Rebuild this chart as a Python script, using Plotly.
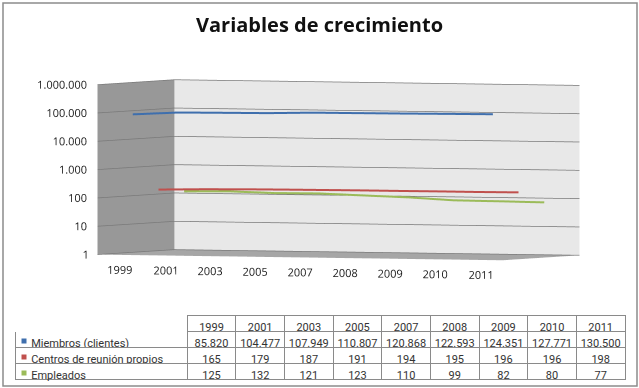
import plotly.graph_objects as go

# ---- data ----
years = ["1999", "2001", "2003", "2005", "2007", "2008", "2009", "2010", "2011"]
miembros = [85820, 104477, 107949, 110807, 120868, 122593, 124351, 127771, 130500]
centros = [165, 179, 187, 191, 194, 195, 196, 196, 198]
empleados = [125, 132, 121, 123, 110, 99, 82, 80, 77]
series_names = ["Miembros (clientes)", "Centros de reunión propios", "Empleados"]
series_values = [miembros, centros, empleados]
series_colors = ["#3F6FAD", "#C0504D", "#9BBB59"]
z_ticks = [1, 10, 100, 1000, 10000, 100000, 1000000]
z_tick_labels = ["1", "10", "100", "1.000", "10.000", "100.000", "1.000.000"]

W, H = 639, 388
FONT = "Open Sans"
TFONT = "Roboto"
TXT = "#222222"

idx = list(range(len(years)))
X_RANGE = [-0.5, len(years) - 0.5]
Y_RANGE = [-0.5, 2.5]
fig = go.Figure()

for depth, (name, vals, col) in enumerate(zip(series_names, series_values, series_colors)):
    fig.add_trace(go.Scatter3d(
        x=idx, y=[depth] * len(idx), z=vals, mode="lines",
        line=dict(color=col, width=4), name=name,
        showlegend=False, hoverinfo="skip",
    ))

# value-axis labels on the front edge of the side wall
fig.add_trace(go.Scatter3d(
    x=[X_RANGE[0]] * len(z_ticks), y=[Y_RANGE[0]] * len(z_ticks), z=z_ticks,
    mode="text", text=[t + "\u00a0\u00a0\u00a0" for t in z_tick_labels],
    textposition="middle left", textfont=dict(family=FONT, size=11, color=TXT),
    showlegend=False, hoverinfo="skip",
))
# category labels along the front edge of the floor
fig.add_trace(go.Scatter3d(
    x=idx, y=[Y_RANGE[0]] * len(idx), z=[z_ticks[0]] * len(idx),
    mode="text", text=years, textposition="bottom center",
    textfont=dict(family=FONT, size=11, color=TXT),
    showlegend=False, hoverinfo="skip",
))


def fmt(v):
    return f"{v:,}".replace(",", ".")


name_cells = ["\u00a0\u00a0\u00a0" + n for n in series_names]
columns = [name_cells]
for i in range(len(years)):
    columns.append([fmt(s[i]) for s in series_values])

TBL_TOP, HDR_H, ROW_H, TBL_L, TBL_R, TBL_B = 315, 16, 16, 15, 625, 383
fig.add_trace(go.Table(
    domain=dict(x=[TBL_L / W, TBL_R / W], y=[(H - TBL_B) / H, (H - TBL_TOP) / H]),
    columnwidth=[172] + [48.6] * len(years),
    header=dict(values=[""] + years, height=HDR_H,
                align=["left"] + ["center"] * len(years),
                line=dict(color=["white"] + ["#8a8a8a"] * len(years), width=1),
                fill=dict(color="white"),
                font=dict(family=TFONT, size=11, color="#333333")),
    cells=dict(values=columns, height=ROW_H,
               align=["left"] + ["center"] * len(years),
               line=dict(color="#8a8a8a", width=1),
               fill=dict(color="white"),
               font=dict(family=TFONT, size=11, color="#333333")),
))

axis_common = dict(showspikes=False, zeroline=False, showline=False, title=dict(text=""),
                   ticks="", showticklabels=False)

shapes = [dict(type="rect", xref="paper", yref="paper", x0=3 / W, x1=637 / W,
               y0=(H - 386) / H, y1=(H - 3) / H, line=dict(color="#8c8c8c", width=1.5),
               layer="above")]
# legend keys in the data table
for r, col in enumerate(series_colors):
    cy = TBL_TOP + HDR_H + ROW_H * (r + 0.5) + 2
    shapes.append(dict(type="rect", xref="paper", yref="paper",
                       x0=21.5 / W, x1=26.5 / W, y0=(H - cy - 2.5) / H, y1=(H - cy + 2.5) / H,
                       fillcolor=col, line=dict(width=0), layer="above"))

fig.update_layout(
    width=W, height=H,
    margin=dict(l=0, r=0, t=0, b=0),
    paper_bgcolor="white",
    scene=dict(
        domain=dict(x=[0.059, 1.0], y=[0.124, 1.0]),
        xaxis=dict(range=X_RANGE, showgrid=False,
                   showbackground=True, backgroundcolor="#989898", **axis_common),
        yaxis=dict(range=Y_RANGE, showgrid=False,
                   showbackground=True, backgroundcolor="#e8e8e8", **axis_common),
        zaxis=dict(type="log", range=[0, 6], tickvals=z_ticks,
                   showgrid=True, gridcolor="#7a7a7a", gridwidth=1.5,
                   showbackground=True, backgroundcolor="#a6a6a6", **axis_common),
        aspectmode="manual", aspectratio=dict(x=2.63, y=1.07, z=1.0),
        camera=dict(eye=dict(x=0.846, y=-1.812, z=0.06), center=dict(x=0, y=0, z=0),
                    up=dict(x=0, y=0, z=1), projection=dict(type="orthographic")),
        bgcolor="rgba(0,0,0,0)",
    ),
    annotations=[dict(text="<b>Variables de crecimiento</b>", x=0.5, y=1 - 25 / H,
                      xref="paper", yref="paper", showarrow=False, xanchor="center",
                      yanchor="middle", font=dict(family=FONT, size=20, color="#111111"))],
    shapes=shapes,
)

fig.write_html("out.html")
